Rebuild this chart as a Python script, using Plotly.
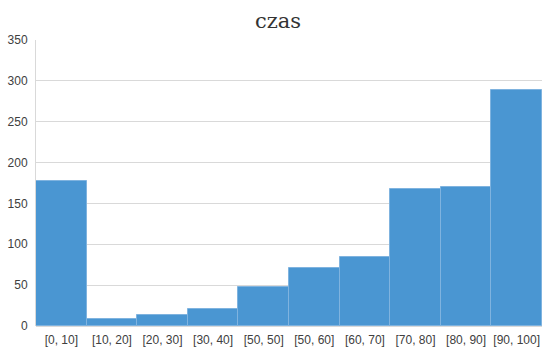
import plotly.graph_objects as go

categories = ["[0, 10]", "[10, 20]", "[20, 30]", "[30, 40]", "[50, 50]",
              "[50, 60]", "[60, 70]", "[70, 80]", "[80, 90]", "[90, 100]"]
counts = [177, 9, 13, 21, 48, 71, 85, 168, 170, 289]
y_ticks = [0, 50, 100, 150, 200, 250, 300, 350]

fig = go.Figure(go.Bar(
    x=categories, y=counts,
    marker=dict(color="#4a96d2", line=dict(color="#7fb3df", width=1)),
))

tick_font = dict(family="Liberation Sans, Arial, sans-serif", size=12, color="#404040")

fig.update_layout(
    width=542, height=352,
    margin=dict(l=36, r=0, t=40, b=26),
    paper_bgcolor="white", plot_bgcolor="white",
    bargap=0,
    showlegend=False,
    title=dict(text="czas", x=0.513, xanchor="center", y=0.94, yanchor="middle",
               font=dict(family="DejaVu Serif, Liberation Serif, serif", size=21, color="#333333")),
    xaxis=dict(showgrid=False, showline=False, ticks="", tickfont=tick_font, ticklabelstandoff=5),
    yaxis=dict(range=[0, 350], tickvals=y_ticks, showgrid=True, gridcolor="#d9d9d9", gridwidth=1,
               showline=True, linecolor="#d9d9d9", linewidth=1, zeroline=True, zerolinecolor="#d9d9d9",
               ticks="", tickfont=tick_font, ticklabelstandoff=5),
)

fig.write_html("out.html",
               config={"displayModeBar": False},
               post_script="document.body.style.margin='0';document.body.style.overflow='hidden';")
